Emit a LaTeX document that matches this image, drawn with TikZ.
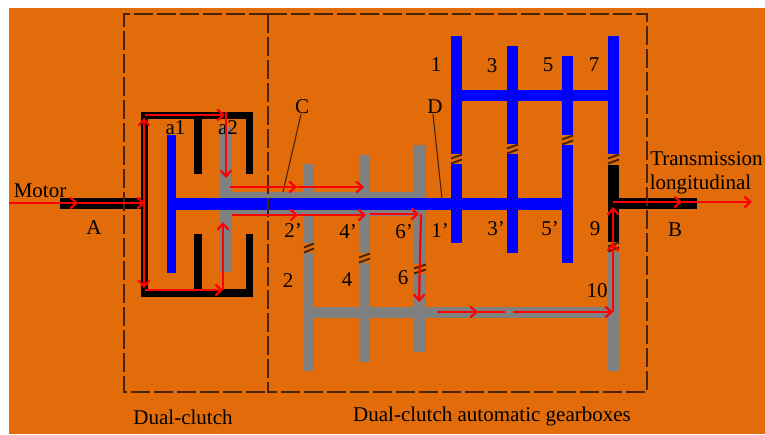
\documentclass[tikz,border=0pt]{standalone}
\usepackage{fontspec}
\setmainfont{Liberation Serif}
\usepackage{xcolor}
\usepackage{tikz}
\usetikzlibrary{arrows.meta}

\definecolor{panel}{HTML}{E36C0A}
\definecolor{hatchline}{HTML}{4A2408}

\tikzset{
  label/.style={inner sep=0pt, font=\fontsize{21}{24}\selectfont},
  flow/.style={red, line width=2.2pt},
  part/.style={draw=none},
  frame/.style={hatchline, line width=1.6pt, dash pattern=on 19pt off 4pt},
  leader/.style={hatchline, line width=1.1pt}
}

\begin{document}
\begin{tikzpicture}[x=1pt, y=-1pt, >={Straight Barb[length=6pt,width=11pt]}]

\useasboundingbox (0,0) rectangle (765,434);
\fill [panel] (9,8) rectangle (765,434);

% gray parts
\foreach \a/\b/\c/\d in {220/127/232/272, 220/192/426/216, 304/164/314/371, 359/155/370/362, 414/145/426/352, 304/307/619/318, 608/252/619/371}
  \fill [part, gray] (\a,\b) rectangle (\c,\d);

% blue parts
\foreach \a/\b/\c/\d in {167/135/176/273, 167/198/573/210, 451/36/462/243, 507/46/518/253, 562/56/573/263, 608/36/619/154, 451/90/619/101}
  \fill [part, blue] (\a,\b) rectangle (\c,\d);

% black parts
\foreach \a/\b/\c/\d in {60/198/143/209, 141/112/148/297, 141/112/253/119, 141/289/253/297, 194/112/202/174, 246/112/253/174, 194/234/202/297, 246/234/253/297, 608/165/619/243, 608/198/697/209}
  \fill [part, black] (\a,\b) rectangle (\c,\d);

% synchronisers
\foreach \x/\y/\w in {456.5/159/5.5, 512.5/149/5.5, 567.5/140/5.5, 613.5/159/5.5, 309/248/5, 364.5/258/5.5, 420/269/6, 613.5/247/5.5} {
  \fill [panel] (\x-\w,\y-5) rectangle (\x+\w,\y+5);
  \draw [hatchline, line width=2pt] (\x-\w,\y-0.5) -- (\x+\w,\y-4.5);
  \draw [hatchline, line width=2pt] (\x-\w,\y+4.5) -- (\x+\w,\y+0.5);
}

\draw [frame] (268,14) -- (124,14) -- (124,392) -- (268,392);
\draw [frame] (268,14) rectangle (647,392);

% text
\foreach \t/\x/\y [count=\i] in {Motor/40/191, A/94/228, a1/175.5/128, a2/228/128, C/302/107, D/435/107, 1/436/65, 3/492/66, 5/548/65, 7/594/65, 2’/293/231, 4’/348/232, 6’/404/232, 1’/440/231, 3’/496/229, 5’/550/229, 9/595/229, 2/288/281, 4/347/280, 6/403/278, 10/597/291, B/675/230, Dual-clutch/183/417}
  \node [label] (txt-\i) at (\x,\y) {\t};
\node [label] (txt-gearboxes) at (492,416) {Dual-clutch automatic gearboxes};
\node [label] (txt-out) at (706.5,159) {Transmission};
\node [label] (txt-long) at (700.5,184) {longitudinal};

\coordinate (c-end) at (283,192);
\coordinate (d-end) at (442,199);
\draw [leader] (txt-5.south) ++(-1,0) -- (c-end);
\draw [leader] (txt-6.south) ++(-2,0) -- (d-end);

% power flow, way points
\foreach \n/\x/\y in {m0/9/203, m1/78/203, m2/145/203, d0/144/203, d1/144/118, d2/144/288,
  t0/145/115, t1/225/115, t2/226/112, t3/226/178, u0/145/290, u1/223/290, u2/223/222,
  h0/230/187, h1/297/187, h2/364/187, s0/232/215, s1/298/215, s2/366/215, s3/370/214, s4/419/214, s5/421/214, s6/419/302,
  w0/437/312, w1/478/312, w2/513/312, w3/613/312, w4/613/243, w5/613/207,
  o0/613/202, o1/682/202, o2/752/202}
  \coordinate (\n) at (\x,\y);

\foreach \a/\b in {m0/m1, m1/m2, d0/d1, d0/d2, t0/t1, t2/t3, u0/u1, u1/u2, h0/h1, h1/h2, s0/s1, s1/s2, s3/s4, s5/s6, w0/w1, w2/w3, w3/w4, w4/w5, o0/o1, o1/o2}
  \draw [flow, ->] (\a) -- (\b);
\coordinate (w1b) at (505,312);
\draw [flow] (w1) -- (w1b);

\end{tikzpicture}
\end{document}
